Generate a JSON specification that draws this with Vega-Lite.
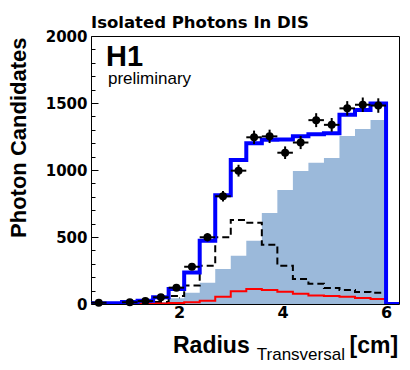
{
  "$schema": "https://vega.github.io/schema/vega-lite/v6.json",
  "width": 308,
  "height": 268,
  "autosize": "none",
  "padding": {"left": 91, "top": 36, "right": 11, "bottom": 66},
  "background": "white",
  "title": {
    "text": "Isolated Photons In DIS",
    "anchor": "start",
    "frame": "group",
    "font": "DejaVu Sans",
    "fontWeight": "bold",
    "fontSize": 16.5,
    "color": "black",
    "offset": -15.5,
    "baseline": "alphabetic"
  },
  "config": {
    "view": {"stroke": "black", "strokeWidth": 1},
    "axis": {"grid": false, "domain": false, "labelOverlap": false, "labelFlush": false, "zindex": 1}
  },
  "datasets": {
    "hist": [
      {"edge": 0.3, "total": 5, "signal": 0, "background": 0, "other": 0},
      {"edge": 0.6, "total": 5, "signal": 0, "background": 0, "other": 0},
      {"edge": 0.9, "total": 15, "signal": 2, "background": 3, "other": 0},
      {"edge": 1.2, "total": 25, "signal": 5, "background": 5, "other": 2},
      {"edge": 1.5, "total": 50, "signal": 15, "background": 15, "other": 3},
      {"edge": 1.8, "total": 112, "signal": 42, "background": 60, "other": 8},
      {"edge": 2.1, "total": 235, "signal": 84, "background": 138, "other": 13},
      {"edge": 2.4, "total": 472, "signal": 159, "background": 286, "other": 25},
      {"edge": 2.7, "total": 811, "signal": 261, "background": 498, "other": 55},
      {"edge": 3.0, "total": 1075, "signal": 361, "background": 627, "other": 95},
      {"edge": 3.3, "total": 1199, "signal": 472, "background": 607, "other": 112},
      {"edge": 3.6, "total": 1226, "signal": 679, "background": 443, "other": 104},
      {"edge": 3.9, "total": 1228, "signal": 851, "background": 286, "other": 92},
      {"edge": 4.2, "total": 1252, "signal": 993, "background": 187, "other": 77},
      {"edge": 4.5, "total": 1266, "signal": 1055, "background": 152, "other": 64},
      {"edge": 4.8, "total": 1274, "signal": 1090, "background": 119, "other": 60},
      {"edge": 5.1, "total": 1413, "signal": 1254, "background": 104, "other": 55},
      {"edge": 5.4, "total": 1448, "signal": 1306, "background": 90, "other": 45},
      {"edge": 5.7, "total": 1497, "signal": 1373, "background": 84, "other": 37},
      {"edge": 6.0, "total": 0, "signal": 0, "background": 0, "other": 0},
      {"edge": 6.3, "total": 0, "signal": 0, "background": 0, "other": 0}
    ],
    "points": [
      {"r": 0.45, "rlo": 0.3, "rhi": 0.6, "n": 10, "nlo": 5, "nhi": 15},
      {"r": 1.05, "rlo": 0.9, "rhi": 1.2, "n": 13, "nlo": 7, "nhi": 19},
      {"r": 1.35, "rlo": 1.2, "rhi": 1.5, "n": 22, "nlo": 15, "nhi": 29},
      {"r": 1.65, "rlo": 1.5, "rhi": 1.8, "n": 50, "nlo": 40, "nhi": 60},
      {"r": 1.95, "rlo": 1.8, "rhi": 2.1, "n": 122, "nlo": 106, "nhi": 138},
      {"r": 2.25, "rlo": 2.1, "rhi": 2.4, "n": 278, "nlo": 254, "nhi": 302},
      {"r": 2.55, "rlo": 2.4, "rhi": 2.7, "n": 498, "nlo": 467, "nhi": 529},
      {"r": 2.85, "rlo": 2.7, "rhi": 3.0, "n": 804, "nlo": 764, "nhi": 844},
      {"r": 3.15, "rlo": 3.0, "rhi": 3.3, "n": 995, "nlo": 951, "nhi": 1039},
      {"r": 3.45, "rlo": 3.3, "rhi": 3.6, "n": 1244, "nlo": 1194, "nhi": 1294},
      {"r": 3.75, "rlo": 3.6, "rhi": 3.9, "n": 1251, "nlo": 1201, "nhi": 1301},
      {"r": 4.05, "rlo": 3.9, "rhi": 4.2, "n": 1129, "nlo": 1082, "nhi": 1176},
      {"r": 4.35, "rlo": 4.2, "rhi": 4.5, "n": 1205, "nlo": 1156, "nhi": 1254},
      {"r": 4.65, "rlo": 4.5, "rhi": 4.8, "n": 1372, "nlo": 1320, "nhi": 1424},
      {"r": 4.95, "rlo": 4.8, "rhi": 5.1, "n": 1337, "nlo": 1286, "nhi": 1388},
      {"r": 5.25, "rlo": 5.1, "rhi": 5.4, "n": 1460, "nlo": 1406, "nhi": 1514},
      {"r": 5.55, "rlo": 5.4, "rhi": 5.7, "n": 1487, "nlo": 1433, "nhi": 1541},
      {"r": 5.85, "rlo": 5.7, "rhi": 6.0, "n": 1481, "nlo": 1427, "nhi": 1535}
    ]
  },
  "resolve": {"axis": {"x": "independent", "y": "independent"}},
  "layer": [
    {
      "data": {"name": "hist"},
      "mark": {"type": "area", "interpolate": "step-after", "color": "#9bb9da", "clip": true},
      "encoding": {
        "x": {
          "field": "edge", "type": "quantitative",
          "scale": {"domain": [0.3, 6.25], "nice": false, "zero": false},
          "axis": {
            "orient": "bottom",
            "values": [2, 4, 6],
            "format": "d",
            "tickSize": -7,
            "tickColor": "black",
            "tickWidth": 1,
            "labelFont": "DejaVu Sans",
            "labelFontWeight": "bold",
            "labelFontSize": 16,
            "labelColor": "black",
            "labelPadding": 7,
            "title": "Radius",
            "titleFont": "Liberation Sans",
            "titleFontWeight": "bold",
            "titleFontSize": 23,
            "titleColor": "black",
            "titleX": 81.5,
            "titleY": 48,
            "titleAlign": "left",
            "titleBaseline": "alphabetic"
          }
        },
        "y": {
          "field": "signal", "type": "quantitative",
          "scale": {"domain": [0, 2000], "nice": false},
          "axis": {
            "orient": "left",
            "values": [0, 500, 1000, 1500, 2000],
            "format": "d",
            "tickSize": -7,
            "tickColor": "black",
            "tickWidth": 1,
            "labelFont": "DejaVu Sans",
            "labelFontWeight": "bold",
            "labelFontSize": 15,
            "labelColor": "black",
            "labelPadding": 11,
            "title": "Photon Candidates",
            "titleFont": "Liberation Sans",
            "titleFontWeight": "bold",
            "titleFontSize": 22,
            "titleColor": "black",
            "titleX": -65.5,
            "titleY": 1,
            "titleAngle": -90,
            "titleAlign": "right",
            "titleBaseline": "alphabetic"
          }
        }
      }
    },
    {
      "data": {"name": "hist"},
      "mark": {"type": "line", "interpolate": "step-after", "color": "black", "strokeWidth": 2, "strokeDash": [7, 4], "clip": true},
      "encoding": {
        "x": {
          "field": "edge", "type": "quantitative",
          "axis": {
            "orient": "bottom",
            "values": [0.5, 1, 1.5, 2.5, 3, 3.5, 4.5, 5, 5.5],
            "labels": false,
            "tickSize": -4,
            "tickColor": "black",
            "tickWidth": 1,
            "title": "Transversal",
            "titleFont": "Liberation Sans",
            "titleFontWeight": "normal",
            "titleFontSize": 17,
            "titleColor": "black",
            "titleX": 165.3,
            "titleY": 55.3,
            "titleAlign": "left",
            "titleBaseline": "alphabetic"
          }
        },
        "y": {
          "field": "background", "type": "quantitative",
          "axis": {
            "orient": "left",
            "values": [100, 200, 300, 400, 600, 700, 800, 900, 1100, 1200, 1300, 1400, 1600, 1700, 1800, 1900],
            "labels": false,
            "tickSize": -4,
            "tickColor": "black",
            "tickWidth": 1,
            "title": null
          }
        }
      }
    },
    {
      "data": {"name": "hist"},
      "mark": {"type": "line", "interpolate": "step-after", "color": "#ff0000", "strokeWidth": 2, "clip": true},
      "encoding": {
        "x": {
          "field": "edge", "type": "quantitative",
          "axis": {
            "orient": "bottom",
            "labels": false, "ticks": false,
            "title": "[cm]",
            "titleFont": "Liberation Sans",
            "titleFontWeight": "bold",
            "titleFontSize": 23,
            "titleColor": "black",
            "titleX": 258,
            "titleY": 48,
            "titleAlign": "left",
            "titleBaseline": "alphabetic"
          }
        },
        "y": {"field": "other", "type": "quantitative", "axis": null}
      }
    },
    {
      "data": {"name": "hist"},
      "mark": {"type": "line", "interpolate": "step-after", "color": "#0000ff", "strokeWidth": 4, "clip": true},
      "encoding": {
        "x": {"field": "edge", "type": "quantitative", "axis": null},
        "y": {"field": "total", "type": "quantitative", "axis": null}
      }
    },
    {
      "data": {"name": "points"},
      "mark": {"type": "rule", "color": "black", "strokeWidth": 2},
      "encoding": {
        "x": {"field": "rlo", "type": "quantitative", "axis": null},
        "x2": {"field": "rhi"},
        "y": {"field": "n", "type": "quantitative", "axis": null}
      }
    },
    {
      "data": {"name": "points"},
      "mark": {"type": "rule", "color": "black", "strokeWidth": 2},
      "encoding": {
        "x": {"field": "r", "type": "quantitative", "axis": null},
        "y": {"field": "nlo", "type": "quantitative", "axis": null},
        "y2": {"field": "nhi"}
      }
    },
    {
      "data": {"name": "points"},
      "mark": {"type": "point", "shape": "circle", "filled": true, "color": "black", "opacity": 1, "size": 64},
      "encoding": {
        "x": {"field": "r", "type": "quantitative", "axis": null},
        "y": {"field": "n", "type": "quantitative", "axis": null}
      }
    },
    {
      "data": {"values": [{}]},
      "mark": {"type": "text", "text": "H1", "font": "Liberation Sans", "fontWeight": "bold", "fontSize": 29, "color": "black", "align": "left", "baseline": "alphabetic"},
      "encoding": {
        "x": {"datum": 0.59, "type": "quantitative", "axis": null},
        "y": {"datum": 1775, "type": "quantitative", "axis": null}
      }
    },
    {
      "data": {"values": [{}]},
      "mark": {"type": "text", "text": "preliminary", "font": "Liberation Sans", "fontSize": 17, "color": "black", "align": "left", "baseline": "alphabetic"},
      "encoding": {
        "x": {"datum": 0.628, "type": "quantitative", "axis": null},
        "y": {"datum": 1640, "type": "quantitative", "axis": null}
      }
    }
  ]
}
